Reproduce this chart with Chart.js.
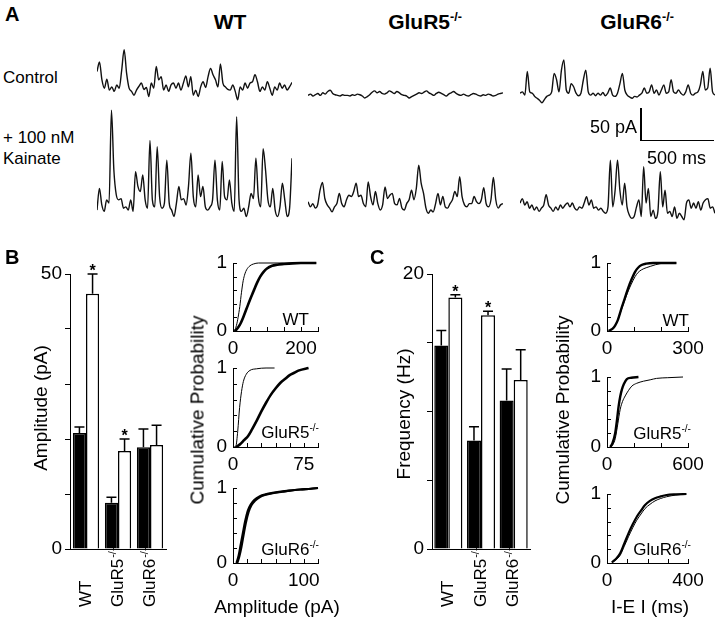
<!DOCTYPE html>
<html><head><meta charset="utf-8">
<script src="https://cdn.jsdelivr.net/npm/chart.js@4.4.1/dist/chart.umd.min.js"></script>
<style>
html,body{margin:0;padding:0;background:#fff;}
#fig{position:relative;width:720px;height:622px;overflow:hidden;font-family:"Liberation Sans",Arial,Helvetica,sans-serif;color:#000;}
canvas{position:absolute;}
.t{position:absolute;white-space:nowrap;line-height:1;}
.t sup{font-size:0.6em;vertical-align:0.6em;line-height:0;}
.bar{position:absolute;background:#000;}
</style></head><body><div id="fig"></div>
<script>
// ---------------- DATA ----------------
// Panel A traces (pA, upward deflections), uniformly sampled
const traceWTControl = [34,49,21,8,22,5,10,3,13,8,36,68,31,8,3,-3,5,11,16,6,9,-5,16,8,42,21,26,5,13,3,13,16,8,16,5,16,27,10,26,-3,5,-5,10,18,9,26,39,29,21,10,46,16,10,6,5,13,3,-10,10,5,16,8,16,18,29,18,3,10,5,18,8,-3,10,5,16,8,13,5,10,17];
const traceWTKainate = [5,39,13,3,21,16,161,68,29,21,23,8,10,5,21,3,65,42,34,60,21,8,114,21,10,104,26,8,16,83,16,5,-5,16,42,21,23,13,42,94,26,10,60,26,42,10,5,10,21,83,21,5,81,26,21,52,16,3,151,21,3,8,-5,10,31,23,86,26,10,101,68,21,10,39,5,-5,10,47,21,-5,8,86];
const traceR5Control = [3,5,2,4,6,3,7,5,9,11,6,4,3,2,4,3,3,2,4,3,5,4,2,-1,1,4,8,10,7,9,6,5,7,10,8,6,9,7,4,3,2,-1,1,3,5,7,6,8,10,7,5,3,6,8,6,4,2,5,7,9,6,4,3,5,3,2,4,6,5,3,2,4,3,5,4,2,3,5,6,7];
const traceR5Kainate = [13,5,10,3,8,31,43,18,8,3,-3,5,10,26,10,5,16,23,21,29,42,21,23,10,5,44,21,8,29,10,0,8,36,18,23,26,10,8,18,3,0,10,16,31,16,34,70,42,26,3,-5,0,-3,10,26,8,21,5,3,10,16,29,21,52,21,8,5,10,10,21,13,10,16,35,10,5,16,51,16,3,8,10];
const traceR6Control = [8,10,5,42,10,8,3,0,-3,-7,-2,3,5,10,39,29,10,44,60,13,8,23,18,8,4,8,29,44,10,5,8,4,8,5,9,4,8,16,5,3,8,23,39,13,5,2,0,3,2,5,8,16,8,10,21,8,13,5,13,21,8,10,29,10,8,13,8,5,10,21,8,5,8,10,21,42,13,16,47,10,5];
const traceR6Kainate = [16,23,13,18,8,13,5,10,3,8,13,29,13,8,3,10,5,13,8,13,16,10,16,8,5,10,8,16,26,13,21,8,10,5,8,3,0,10,83,10,36,83,36,13,47,10,-3,-8,-5,10,21,-5,73,16,39,-5,5,-8,3,65,10,36,0,3,-5,10,-8,0,-5,-10,16,21,8,16,8,18,5,16,21,23,8,10,0];

// Bar charts
const genotypes = ['WT', 'GluR5-/-', 'GluR6-/-'];
const ampControl = [21.1, 8.4, 18.5];
const ampControlErr = [1.1, 1.0, 3.3];
const ampKainate = [46.4, 17.8, 18.9];
const ampKainateErr = [3.6, 2.2, 3.6];
const ampSignificant = [true, true, false];
const ampTickLabels = [0, 50];

const freqControl = [14.8, 7.9, 10.8];
const freqControlErr = [1.1, 1.0, 2.3];
const freqKainate = [18.3, 17.0, 12.3];
const freqKainateErr = [0.2, 0.3, 2.2];
const freqSignificant = [true, true, false];
const freqTickLabels = [0, 20];

// Cumulative probability curves (thin = control, thick = kainate)
const cumYTickLabels = [0, 1];
const ampWTCtrlX = [0,5,10,15,20,25,30,35,40,50,60,75,150,245];
const ampWTCtrlY = [0,0.01,0.08,0.2,0.36,0.57,0.74,0.84,0.9,0.96,0.985,1,1,1];
const ampWTKaiX = [5,10,20,30,40,50,60,70,80,90,100,115,130,150,175,200,245];
const ampWTKaiY = [0,0.02,0.09,0.2,0.33,0.46,0.58,0.7,0.8,0.87,0.92,0.96,0.975,0.985,0.995,1,1];
const ampWTTickLabels = [0, 200];

const ampR5CtrlX = [0,3,5,7,9,11,14,18,25,35,44];
const ampR5CtrlY = [0,0.01,0.2,0.5,0.7,0.83,0.92,0.97,0.99,1,1];
const ampR5KaiX = [3,7,12,16,20,25,30,35,40,45,50,55,60,65,70,80];
const ampR5KaiY = [0,0.03,0.09,0.14,0.22,0.33,0.45,0.56,0.66,0.74,0.81,0.86,0.91,0.94,0.97,1];
const ampR5TickLabels = [0, 75];

const ampR6CtrlX = [5,8,11,14,17,21,25,30,38,46,56,70,80,95,110,120];
const ampR6CtrlY = [0,0.1,0.25,0.4,0.55,0.7,0.78,0.84,0.89,0.915,0.935,0.955,0.965,0.98,0.99,1];
const ampR6KaiX = [6,9,12,15,18,22,26,31,38,46,56,70,80,95,110,120];
const ampR6KaiY = [0,0.09,0.22,0.38,0.53,0.68,0.77,0.83,0.88,0.91,0.93,0.95,0.965,0.98,0.99,1];
const ampR6TickLabels = [0, 100];

const ieiWTCtrlX = [6,20,30,40,55,70,80,90,104,115,128,145,160,180,196,220,257];
const ieiWTCtrlY = [0,0.03,0.08,0.16,0.33,0.5,0.6,0.69,0.8,0.86,0.9,0.93,0.95,0.975,0.99,1,1];
const ieiWTKaiX = [6,20,30,40,55,70,80,90,104,115,128,145,171,200,257];
const ieiWTKaiY = [0,0.03,0.08,0.16,0.35,0.53,0.65,0.75,0.87,0.93,0.97,0.99,1,1,1];
const ieiWTTickLabels = [0, 300];

const ieiR5CtrlX = [24,45,61,80,98,115,135,160,184,220,270,320,367,450,563];
const ieiR5CtrlY = [0,0.04,0.12,0.33,0.54,0.65,0.73,0.81,0.87,0.91,0.94,0.96,0.98,0.99,1];
const ieiR5KaiX = [24,40,61,75,86,98,110,125,147,180,233];
const ieiR5KaiY = [0,0.05,0.2,0.4,0.58,0.72,0.82,0.9,0.97,0.99,1];
const ieiR5TickLabels = [0, 600];

const ieiR6CtrlX = [24,45,65,85,106,127,147,168,188,212,237,265,294,340,392];
const ieiR6CtrlY = [0.01,0.05,0.11,0.24,0.38,0.51,0.62,0.71,0.79,0.85,0.9,0.935,0.96,0.985,1];
const ieiR6KaiX = [24,45,65,85,106,127,147,168,188,212,237,265,294,340,392];
const ieiR6KaiY = [0.01,0.06,0.14,0.28,0.43,0.56,0.67,0.76,0.84,0.9,0.94,0.965,0.985,0.995,1];
const ieiR6TickLabels = [0, 400];

// ---------------- RENDERING ----------------
const FONT = '"Liberation Sans", Arial, Helvetica, sans-serif';
Chart.defaults.font.family = FONT;
Chart.defaults.color = '#000';
const fig = document.getElementById('fig');
const base = {
  responsive: false, animation: false, devicePixelRatio: 1, events: [],
  plugins: { legend: { display: false }, tooltip: { enabled: false } }
};

function mkCanvas(left, top, w, h) {
  const c = document.createElement('canvas');
  c.width = w; c.height = h;
  c.style.left = left + 'px'; c.style.top = top + 'px';
  c.style.width = w + 'px'; c.style.height = h + 'px';
  fig.appendChild(c);
  return c;
}
function place(chart, c, areaLeft, areaTop) {
  c.style.left = (areaLeft - chart.chartArea.left) + 'px';
  c.style.top = (areaTop - chart.chartArea.top) + 'px';
}
function text(html, x, y, size, o = {}) {
  const d = document.createElement('div');
  d.className = 't';
  d.innerHTML = html;
  d.style.fontSize = size + 'px';
  if (o.bold) d.style.fontWeight = 'bold';
  let tr;
  if (o.rot) tr = 'translate(-50%,-50%) rotate(-90deg)';
  else if (o.anchor === 'l') tr = 'translate(0,-50%)';
  else if (o.anchor === 'r') tr = 'translate(-100%,-50%)';
  else tr = 'translate(-50%,-50%)';
  d.style.left = x + 'px'; d.style.top = y + 'px';
  d.style.transform = tr; d.style.transformOrigin = 'center';
  fig.appendChild(d);
}

// ---- Panel A traces ----
const PA_PER_PX = 50 / 32;
function traceChart(data, left, width, baseY, top, height) {
  const c = mkCanvas(left, top, width, height);
  new Chart(c, {
    type: 'line',
    data: { labels: data.map((_, i) => i), datasets: [{ data, borderColor: '#111', borderWidth: 1.4, pointRadius: 0, cubicInterpolationMode: 'monotone', clip: false }] },
    options: { ...base, layout: { padding: 0 },
      scales: { x: { display: false }, y: { display: false, min: -(top + height - baseY) * PA_PER_PX, max: (baseY - top) * PA_PER_PX } } }
  });
}
traceChart(traceWTControl, 97, 195, 93.3, 40, 70);
traceChart(traceR5Control, 308, 195, 97.3, 40, 70);
traceChart(traceR6Control, 520, 195, 98.3, 40, 70);
traceChart(traceWTKainate, 97, 195, 213.3, 100, 125);
traceChart(traceR5Kainate, 308, 195, 210, 100, 125);
traceChart(traceR6Kainate, 520, 195, 213.3, 100, 125);

// scale bar
(function () {
  const v = document.createElement('div'); v.className = 'bar';
  Object.assign(v.style, { left: '640px', top: '108px', width: '1.5px', height: '33px' });
  const h = document.createElement('div'); h.className = 'bar';
  Object.assign(h.style, { left: '640px', top: '139.5px', width: '74px', height: '1.5px' });
  fig.appendChild(v); fig.appendChild(h);
})();

// ---- Plugins ----
const errBars = {
  id: 'errBars',
  afterDatasetsDraw(chart, args, o) {
    const { ctx, scales: { x, y } } = chart;
    ctx.save();
    ctx.strokeStyle = '#000'; ctx.fillStyle = '#000'; ctx.lineWidth = 1.5;
    o.errors.forEach((errs, di) => {
      const meta = chart.getDatasetMeta(di);
      meta.data.forEach((bar, i) => {
        const v = chart.data.datasets[di].data[i];
        const top = y.getPixelForValue(v + errs[i]);
        ctx.beginPath();
        ctx.moveTo(bar.x, bar.y); ctx.lineTo(bar.x, top);
        ctx.moveTo(bar.x - o.cap / 2, top); ctx.lineTo(bar.x + o.cap / 2, top);
        ctx.stroke();
        if (di === 1 && o.sig[i]) {
          ctx.font = 'bold 16px ' + FONT; ctx.textAlign = 'center'; ctx.textBaseline = 'alphabetic';
          ctx.fillText('*', bar.x, top + 2);
        }
      });
    });
    // rotated category labels, aligned at their bottom
    const yb = chart.chartArea.bottom + o.labelDrop;
    chart.data.labels.forEach((lab, i) => {
      const px = x.getPixelForValue(i);
      const m = /^(.*?)(-\/-)?$/.exec(lab);
      ctx.save();
      ctx.translate(px, yb); ctx.rotate(-Math.PI / 2);
      ctx.font = '17px ' + FONT; ctx.textAlign = 'left'; ctx.textBaseline = 'middle';
      ctx.fillText(m[1], 0, 0);
      if (m[2]) {
        const w = ctx.measureText(m[1]).width;
        ctx.font = '11px ' + FONT;
        ctx.fillText(m[2], w + 1, -5);
      }
      ctx.restore();
    });
    ctx.restore();
  }
};
const inTicks = {
  id: 'inTicks',
  afterDraw(chart, args, o) {
    const { ctx, chartArea: a, scales: { x, y } } = chart;
    ctx.save(); ctx.strokeStyle = '#000'; ctx.lineWidth = 1;
    ctx.beginPath();
    x.ticks.forEach(t => { const px = Math.round(x.getPixelForValue(t.value)) + 0.5; ctx.moveTo(px, a.bottom); ctx.lineTo(px, a.bottom - o.len); });
    y.ticks.forEach(t => { const py = Math.round(y.getPixelForValue(t.value)) + 0.5; ctx.moveTo(a.left, py); ctx.lineTo(a.left + o.len, py); });
    ctx.stroke(); ctx.restore();
  }
};

// ---- Bar charts ----
function barChart(cats, ctrl, kai, ctrlErr, kaiErr, sig, ymax, step, yLabels, area, catPct) {
  const YW = 70, PT = 26, PR = 10, XH = 64;
  const w = area.r - area.l, h = area.b - area.t;
  const c = mkCanvas(area.l - YW, area.t - PT, YW + w + PR, PT + h + XH);
  const chart = new Chart(c, {
    type: 'bar',
    data: { labels: cats, datasets: [
      { data: ctrl, backgroundColor: '#000', borderColor: '#000', borderWidth: 1.5, categoryPercentage: catPct, barPercentage: 1 },
      { data: kai, backgroundColor: '#fff', borderColor: '#000', borderWidth: 1.5, categoryPercentage: catPct, barPercentage: 1 }
    ] },
    options: { ...base,
      layout: { padding: { top: PT, right: PR, left: 0, bottom: 0 } },
      scales: {
        x: { grid: { display: false, drawTicks: false }, border: { display: true, color: '#000', width: 1 }, ticks: { display: false }, afterFit: s => { s.height = XH; } },
        y: { min: 0, max: ymax,
             ticks: { stepSize: step, autoSkip: false, callback: v => yLabels.includes(v) ? String(v) : '', font: { size: 19 }, color: '#000', padding: 3 },
             grid: { drawOnChartArea: false, tickLength: 5, color: '#000', lineWidth: 1 },
             border: { display: true, color: '#000', width: 1 },
             afterFit: s => { s.width = YW; } }
      },
      plugins: { ...base.plugins, errBars: { errors: [ctrlErr, kaiErr], sig, cap: 10, labelDrop: 58 } }
    },
    plugins: [errBars]
  });
  place(chart, c, area.l, area.t);
}
barChart(genotypes, ampControl, ampKainate, ampControlErr, ampKainateErr, ampSignificant, 50, 10, ampTickLabels, { l: 70, r: 166, t: 274, b: 549 }, 0.82);
barChart(genotypes, freqControl, freqKainate, freqControlErr, freqKainateErr, freqSignificant, 20, 5, freqTickLabels, { l: 432, r: 530, t: 274, b: 549 }, 0.86);

// ---- Cumulative plots ----
function cumChart(curves, xMax, xStep, xLabels, area) {
  const YW = 30, PT = 26, PR = 24, XH = 38;
  const w = area.r - area.l, h = area.b - area.t;
  const c = mkCanvas(area.l - YW, area.t - PT, YW + w + PR, PT + h + XH);
  const chart = new Chart(c, {
    type: 'line',
    data: { datasets: curves.map(cv => ({
      data: cv.x.map((x, i) => ({ x, y: cv.y[i] })),
      borderColor: '#000', borderWidth: cv.w, pointRadius: 0, cubicInterpolationMode: 'monotone', clip: false
    })) },
    options: { ...base,
      layout: { padding: { top: PT, right: PR, left: 0, bottom: 0 } },
      scales: {
        x: { type: 'linear', min: 0, max: xMax,
             ticks: { stepSize: xStep, autoSkip: false, maxRotation: 0, callback: v => xLabels.includes(v) ? String(v) : '', font: { size: 19 }, color: '#000', padding: 6 },
             grid: { display: false, drawTicks: false }, border: { display: true, color: '#000', width: 1 },
             afterFit: s => { s.height = XH; } },
        y: { min: 0, max: 1,
             ticks: { stepSize: 0.2, autoSkip: false, callback: v => { const k = cumYTickLabels.find(t => Math.abs(t - v) < 1e-9); return k === undefined ? '' : String(k); }, font: { size: 19 }, color: '#000', padding: 6 },
             grid: { display: false, drawTicks: false }, border: { display: true, color: '#000', width: 1 },
             afterFit: s => { s.width = YW; } }
      },
      plugins: { ...base.plugins, inTicks: { len: 4 } }
    },
    plugins: [inTicks]
  });
  place(chart, c, area.l, area.t);
}
cumChart([{ x: ampWTCtrlX, y: ampWTCtrlY, w: 1 }, { x: ampWTKaiX, y: ampWTKaiY, w: 2.6 }], 250, 50, ampWTTickLabels, { l: 233, r: 318, t: 263, b: 331 });
cumChart([{ x: ampR5CtrlX, y: ampR5CtrlY, w: 1 }, { x: ampR5KaiX, y: ampR5KaiY, w: 2.6 }], 90, 15, ampR5TickLabels, { l: 233, r: 318, t: 368, b: 447 });
cumChart([{ x: ampR6CtrlX, y: ampR6CtrlY, w: 2.2 }, { x: ampR6KaiX, y: ampR6KaiY, w: 2.2 }], 120, 20, ampR6TickLabels, { l: 233, r: 318, t: 488, b: 563 });
cumChart([{ x: ieiWTCtrlX, y: ieiWTCtrlY, w: 1 }, { x: ieiWTKaiX, y: ieiWTKaiY, w: 2.4 }], 300, 100, ieiWTTickLabels, { l: 607, r: 688, t: 263, b: 331 });
cumChart([{ x: ieiR5CtrlX, y: ieiR5CtrlY, w: 1 }, { x: ieiR5KaiX, y: ieiR5KaiY, w: 2.4 }], 600, 200, ieiR5TickLabels, { l: 607, r: 688, t: 377, b: 447 });
cumChart([{ x: ieiR6CtrlX, y: ieiR6CtrlY, w: 1 }, { x: ieiR6KaiX, y: ieiR6KaiY, w: 2.2 }], 400, 100, ieiR6TickLabels, { l: 607, r: 688, t: 494, b: 563 });

// ---- Text ----
text('A', 5, 14, 20, { bold: true, anchor: 'l' });
text('WT', 230, 21, 21, { bold: true });
text('GluR5<sup>-/-</sup>', 425, 21, 21, { bold: true });
text('GluR6<sup>-/-</sup>', 637, 21, 21, { bold: true });
text('Control', 3, 77, 17, { anchor: 'l' });
text('+ 100 nM', 3, 137, 17, { anchor: 'l' });
text('Kainate', 3, 158, 17, { anchor: 'l' });
text('50 pA', 637, 127, 18, { anchor: 'r' });
text('500 ms', 647, 158, 18, { anchor: 'l' });

text('B', 5, 257, 20, { bold: true, anchor: 'l' });
text('Amplitude (pA)', 40, 408, 19, { rot: true });
text('Cumulative Probability', 197, 410, 19, { rot: true });
text('Amplitude (pA)', 277, 606, 19);
text('WT', 309, 319, 17, { anchor: 'r' });
text('GluR5<sup>-/-</sup>', 319, 432, 17, { anchor: 'r' });
text('GluR6<sup>-/-</sup>', 319, 549, 17, { anchor: 'r' });

text('C', 370, 257, 20, { bold: true, anchor: 'l' });
text('Frequency (Hz)', 403, 414, 19, { rot: true });
text('Cumulative Probability', 562, 410, 19, { rot: true });
text('I-E I (ms)', 650, 606, 19);
text('WT', 689, 320, 17, { anchor: 'r' });
text('GluR5<sup>-/-</sup>', 691, 433, 17, { anchor: 'r' });
text('GluR6<sup>-/-</sup>', 691, 549, 17, { anchor: 'r' });
</script></body></html>
